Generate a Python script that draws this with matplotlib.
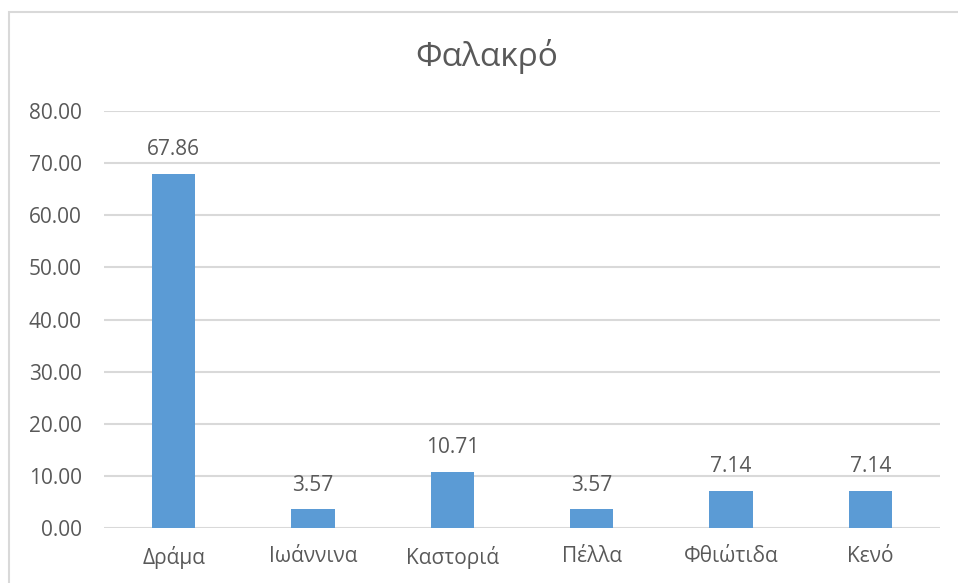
import matplotlib
matplotlib.use("Agg")
import matplotlib.pyplot as plt
from matplotlib.patches import Rectangle

plt.rcParams['font.family'] = ['Open Sans', 'DejaVu Sans']

categories = ['Δράμα', 'Ιωάννινα', 'Καστοριά', 'Πέλλα', 'Φθιώτιδα', 'Κενό']
values = [67.86, 3.57, 10.71, 3.57, 7.14, 7.14]
yticks = [0, 10, 20, 30, 40, 50, 60, 70, 80]

txt = '#595959'
fig = plt.figure(figsize=(9.58, 5.83), dpi=100)
ax = fig.add_axes([0.1086, 0.0943, 0.8726, 0.7153])

# outer chart frame (only left/top edges fall inside the picture)
fig.patches.append(Rectangle((9/958, -0.1), 1.2, 1 - 12/583 + 0.1, transform=fig.transFigure,
                             fill=False, edgecolor='#D9D9D9', linewidth=1.5))

x = range(len(categories))
bars = ax.bar(x, values, width=0.31, color='#5B9BD5', zorder=3)
for b, v in zip(bars, values):
    ax.annotate(f'{v:.2f}', (b.get_x() + b.get_width() / 2, v), xytext=(0, 10),
                textcoords='offset points', ha='center', va='bottom',
                fontsize=15, color=txt)

ax.set_xlim(-0.5, len(categories) - 0.5)
ax.set_ylim(0, 80)
ax.set_yticks(yticks)
ax.set_yticklabels([f'{t:.2f}' for t in yticks])
ax.set_xticks(list(x))
ax.set_xticklabels(categories)
ax.tick_params(axis='y', length=0, pad=16, labelsize=15, labelcolor=txt)
ax.tick_params(axis='x', length=0, pad=13, labelsize=15, labelcolor=txt)
ax.grid(axis='y', color='#D9D9D9', linewidth=1.5, zorder=0)
for s in ax.spines.values():
    s.set_visible(False)

fig.text(0.508, 1 - 57/583, 'Φαλακρό', ha='center', va='center', fontsize=24, color=txt)

fig.savefig('out.png', dpi=100)
